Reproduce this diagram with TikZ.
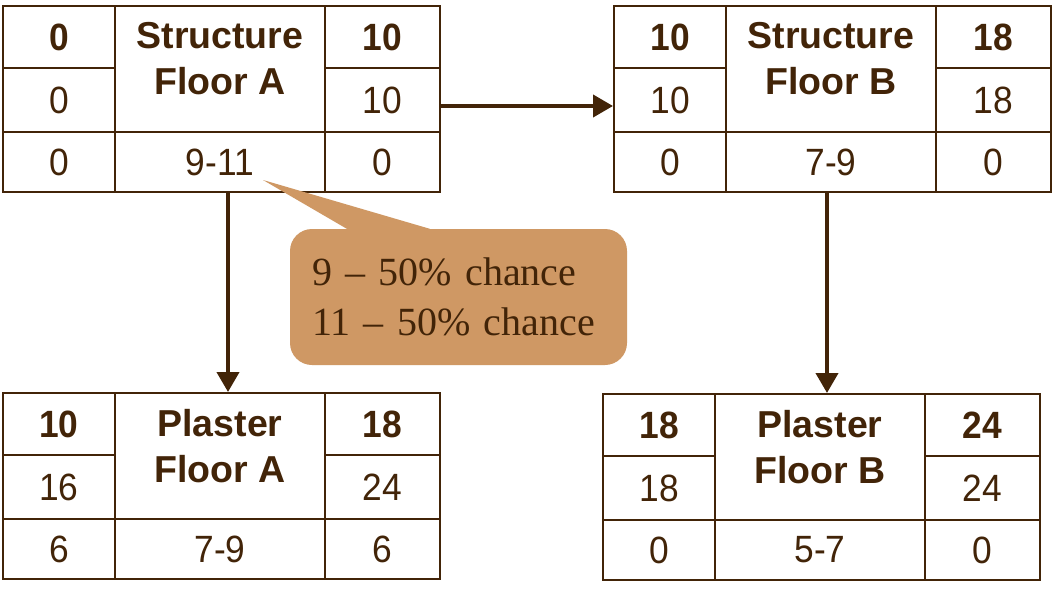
\documentclass[tikz,border=0pt]{standalone}
\usepackage{fontspec}
\setmainfont{Liberation Sans}
\newfontfamily\numfont[FakeStretch=0.93]{Liberation Sans}
\newfontfamily\notefont{Liberation Serif}
\usetikzlibrary{arrows.meta}
\definecolor{ink}{RGB}{66,36,8}
\definecolor{tanfill}{RGB}{207,152,100}
\tikzset{
  cell/.style={draw=ink, line width=2pt, rectangle, inner sep=0pt, anchor=north west,
    text=ink, font=\numfont\fontsize{38pt}{45pt}\selectfont},
  bnum/.style={font=\numfont\fontsize{38pt}{45pt}\selectfont\bfseries},
  ttl/.style={anchor=north, inner sep=0pt, text=ink, align=center,
    font=\fontsize{37.5pt}{46pt}\selectfont\bfseries},
  arr/.style={draw=ink, line width=4pt, -{Triangle[length=20pt,width=22pt]}},
  note/.style={fill=tanfill, rounded corners=22pt, minimum width=337pt, minimum height=136pt,
    text width=293pt, inner xsep=22pt, inner ysep=0pt, align=left, text=ink,
    font=\notefont\fontsize{40pt}{50pt}\selectfont}
}
\newcommand{\actbox}[9]{%
  \node[cell, bnum, minimum width=112pt, minimum height=62pt] (#1-es) at (#1) {#2};
  \node[cell, minimum width=210pt, minimum height=126pt, xshift=112pt] (#1-title) at (#1) {};
  \node[ttl] (#1-name) at ([yshift=-17pt]#1-title.north) {#3};
  \node[cell, bnum, minimum width=115pt, minimum height=62pt, xshift=322pt] (#1-ef) at (#1) {#4};
  \node[cell, minimum width=112pt, minimum height=64pt, yshift=-62pt] (#1-ls) at (#1) {#5};
  \node[cell, minimum width=115pt, minimum height=64pt, xshift=322pt, yshift=-62pt] (#1-lf) at (#1) {#6};
  \node[cell, minimum width=112pt, minimum height=60pt, yshift=-126pt] (#1-sl) at (#1) {#7};
  \node[cell, minimum width=210pt, minimum height=60pt, xshift=112pt, yshift=-126pt] (#1-dur) at (#1) {#8};
  \node[cell, minimum width=115pt, minimum height=60pt, xshift=322pt, yshift=-126pt] (#1-sr) at (#1) {#9};
}
\begin{document}
\begin{tikzpicture}[x=1pt, y=-1pt]
\useasboundingbox[fill=white] (0,0) rectangle (1055,594);
\coordinate (A) at (2,5);
\coordinate (B) at (613,5);
\coordinate (C) at (2,392);
\coordinate (D) at (602,393);
\actbox{A}{0}{Structure\\Floor A}{10}{0}{10}{0}{9-11}{0}
\actbox{B}{10}{Structure\\Floor B}{18}{10}{18}{0}{7-9}{0}
\actbox{C}{10}{Plaster\\Floor A}{18}{16}{24}{6}{7-9}{6}
\actbox{D}{18}{Plaster\\Floor B}{24}{18}{24}{0}{5-7}{0}
\draw[arr] ([yshift=-6pt]A-lf.east) -- ([yshift=-6pt]A-lf.east -| B-ls.west);
\draw[arr] ([xshift=8pt]A-dur.south) -- ([xshift=8pt]A-dur.south |- C-title.north);
\draw[arr] ([xshift=-4pt]B-dur.south) -- ([xshift=-4pt]B-dur.south |- D-title.north);
\node[note] (note) at (458.5,297) {9 – 50\% chance\\11 – 50\% chance};
\coordinate (tip) at (263,180);
\fill[tanfill] (tip) -- ([xshift=57pt]note.north west) -- ([xshift=57pt,yshift=-6pt]note.north west)
  -- ([xshift=140pt,yshift=-6pt]note.north west) -- ([xshift=140pt]note.north west) -- cycle;
\end{tikzpicture}
\end{document}
